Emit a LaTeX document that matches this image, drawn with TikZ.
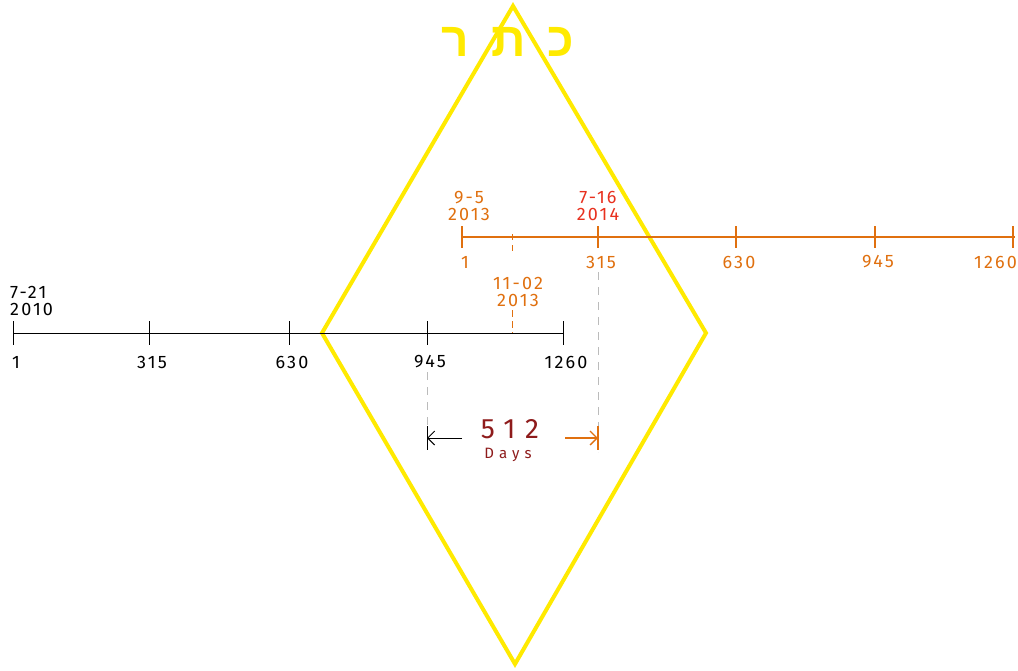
\documentclass[tikz,border=0pt]{standalone}
\usepackage{fontspec}
\setmainfont{Fira Sans}[LetterSpace=12]
\newfontfamily\spacedfont{Fira Sans}[LetterSpace=35]
\newfontfamily\hebfont[Script=Hebrew]{Liberation Sans}
\TeXXeTstate=1
\usetikzlibrary{arrows.meta}
\definecolor{keter}{HTML}{FFEA00}
\definecolor{orng}{HTML}{E0700F}
\definecolor{redd}{HTML}{E8301E}
\definecolor{dred}{HTML}{8E1B1B}
\definecolor{dgray}{HTML}{BBBBBB}
\begin{document}
\begin{tikzpicture}[x=1pt,y=-1pt,
  lbl/.style={font=\fontsize{18}{19}\selectfont, inner sep=0pt},
  blk/.style={draw=black, line width=1pt},
  org/.style={draw=orng, line width=1.3pt},
  guide/.style={draw=dgray, dash pattern=on 8pt off 7pt, line width=0.8pt}]
\useasboundingbox (0,0) rectangle (1018,670);
\fill[white] (0,0) rectangle (1018,670);
% diamond
\coordinate (dt) at (513,6);
\coordinate (dl) at (322,333);
\coordinate (db) at (515,664);
\coordinate (dr) at (706,333);
\draw[keter, line width=4pt, line join=miter] (dt) -- (dr) -- (db) -- (dl) -- cycle;
\node[text=keter, font=\hebfont\bfseries\fontsize{48}{48}\selectfont, inner sep=0pt] (heb) at (508,42) {\beginR כ\hspace{22pt}ת\hspace{22pt}ר\endR};
% black timeline
\coordinate (b0) at (13,333);
\coordinate (b4) at (563,333);
\draw[blk] (b0) -- (b4);
\foreach \x/\l [count=\i] in {13/1,149/315,289/630,427/945,563/1260}{
  \draw[blk] (\x,321) -- (\x,345);
  \node[lbl] (bl\i) at (\x+3,362) {\l};
}
\node[lbl, align=left, anchor=west] (bdate) at (10,301) {7-21\\[-2pt]2010};
% orange timeline
\coordinate (o0) at (462,237);
\coordinate (o4) at (1015,237);
\draw[org] (o0) -- (o4);
\foreach \x/\l [count=\i] in {462/1,598/315,736/630,875/945}{
  \draw[org] (\x,226) -- (\x,248);
  \node[lbl, text=orng] (ol\i) at (\x+3,262) {\l};
}
\draw[org] (1013,226) -- (1013,248);
\node[lbl, text=orng, anchor=west] (ol5) at (974,262) {1260};
\node[lbl, text=orng, align=center] (odate1) at (469,206) {9-5\\[-2pt]2013};
\node[lbl, text=redd, align=center] (odate2) at (598,206) {7-16\\[-2pt]2014};
% 11-02 marker
\draw[org, line width=1pt, dash pattern=on 6pt off 5pt] (512,234) -- (512,253);
\node[lbl, text=orng, align=center] (nov) at (518,292) {11-02\\[-2pt]2013};
\draw[org, line width=1pt, dash pattern=on 7pt off 4pt] (512,310) -- (512,333);
% guide lines
\coordinate (g1t) at (427,372);
\coordinate (g1b) at (427,450);
\coordinate (g2t) at (598,272);
\coordinate (g2b) at (598,452);
\draw[guide] (g1t) -- (g1b);
\draw[guide] (g2t) -- (g2b);
% 512 days arrows
\coordinate (al) at (427,438);
\coordinate (als) at (462,438);
\coordinate (ar) at (598,438);
\coordinate (ars) at (565,438);
\draw[blk, -{Straight Barb[length=7pt,width=14pt]}] (als) -- (al);
\draw[blk] (427,426) -- (427,450);
\draw[org, -{Straight Barb[length=7pt,width=14pt]}] (ars) -- (ar);
\draw[org] (598,426) -- (598,450);
\node[text=dred, font=\spacedfont\fontsize{28}{28}\selectfont, inner sep=0pt] (n512) at (510,429) {512};
\node[text=dred, font=\spacedfont\fontsize{15}{15}\selectfont, inner sep=0pt] (days) at (508,455) {Days};
\end{tikzpicture}
\end{document}
